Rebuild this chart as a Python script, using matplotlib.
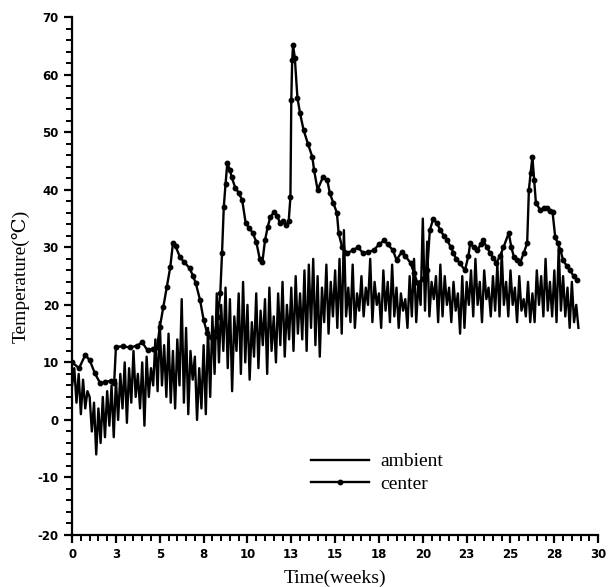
import numpy as np
import matplotlib
matplotlib.use("Agg")
import matplotlib.pyplot as plt
from matplotlib.ticker import MultipleLocator, FixedLocator

# ---------------- data ----------------
# ambient temperature, 8 readings per week, weeks 0 .. 28.875
ambient_t = [
    6, 9, 3, 8, 1, 7, 2, 5,
    4, -2, 3, -6, 2, -4, 4, -3,
    5, -1, 6, -3, 7, 0, 8, 2,
    10, -0.5, 9, 3, 12, 4, 8, 2,
    10, -1, 11, 4, 9, 6, 14, 5,
    17, 6, 13, 4, 15, 3, 12, 2,
    14, 6, 21, 3, 16, 1, 12, 7,
    11, 0, 9, 2, 13, 1, 16, 4,
    18, 8, 22, 10, 20, 12, 23, 9,
    21, 5, 18, 12, 22, 8, 24, 10,
    20, 7, 17, 11, 22, 9, 19, 13,
    21, 8, 23, 12, 18, 10, 22, 13,
    24, 11, 20, 14, 23, 12, 25, 15,
    22, 14, 26, 12, 27, 16, 28, 13,
    25, 11, 23, 17, 27, 15, 24, 18,
    26, 16, 28, 15, 33, 18, 23, 17,
    27, 16, 22, 19, 25, 18, 23, 20,
    28, 17, 24, 20, 22, 16, 26, 19,
    24, 17, 27, 18, 23, 16, 22, 19,
    21, 16, 25, 18, 28, 17, 24, 20,
    35, 19, 31, 18, 24, 21, 25, 17,
    27, 18, 25, 20, 23, 17, 24, 19,
    22, 15, 25, 16, 24, 20, 26, 18,
    28, 20, 24, 17, 26, 21, 23, 18,
    25, 19, 27, 18, 29, 20, 24, 18,
    26, 20, 23, 17, 25, 19, 21, 18,
    24, 17, 22, 17, 26, 20, 25, 18,
    28, 19, 24, 18, 26, 17, 30, 19,
    25, 18, 23, 16, 24, 17, 20, 16,
]
ambient_wk = np.arange(len(ambient_t)) / 8.0

center_wk = [0, 0.4, 0.75, 1.0, 1.3, 1.6, 1.9, 2.2, 2.4, 2.5, 2.9, 3.3, 3.7, 4.0,
             4.3, 4.6, 4.85, 5.0, 5.2, 5.4, 5.6, 5.75, 5.9, 6.15, 6.4, 6.7, 6.9,
             7.05, 7.3, 7.5, 7.7, 7.9, 8.1, 8.3, 8.45, 8.55, 8.65, 8.75, 8.85,
             9.0, 9.1, 9.3, 9.5, 9.7, 9.9, 10.1, 10.3, 10.5, 10.7, 10.85, 11.0,
             11.15, 11.3, 11.5, 11.7, 11.85, 12.0, 12.2, 12.35, 12.45, 12.5,
             12.55, 12.6, 12.7, 12.85, 13.0, 13.2, 13.45, 13.7, 13.8, 14.0,
             14.3, 14.55, 14.7, 14.9, 15.1, 15.2, 15.4, 15.7, 16.0, 16.3, 16.6,
             16.9, 17.2, 17.5, 17.8, 18.0, 18.3, 18.5, 18.8, 19.0, 19.3, 19.5,
             19.7, 20.0, 20.25, 20.4, 20.6, 20.8, 21.0, 21.2, 21.4, 21.6, 21.75,
             21.9, 22.1, 22.4, 22.6, 22.7, 22.9, 23.1, 23.3, 23.45, 23.65,
             23.85, 24.0, 24.2, 24.4, 24.6, 24.9, 25.05, 25.2, 25.35, 25.55,
             25.75, 25.95, 26.05, 26.15, 26.25, 26.35, 26.45, 26.7, 26.9, 27.1,
             27.25, 27.4, 27.55, 27.7, 27.85, 28.0, 28.2, 28.4, 28.6, 28.8]
center_t = [10, 9, 11.3, 10.4, 8.1, 6.4, 6.6, 6.8, 6.5, 12.7, 12.8, 12.6, 12.9,
            13.5, 12.1, 12.4, 12.7, 16.1, 19.6, 23.1, 26.6, 30.7, 30.2, 28.3,
            27.4, 26.4, 25.0, 23.8, 20.8, 17.4, 15.1, 14.4, 14.4, 17.9, 22, 29,
            37, 41, 44.6, 43.5, 42.2, 40.4, 39.5, 38.2, 34.2, 33.4, 32.5, 31,
            28, 27.4, 31.2, 33.5, 35.2, 36.1, 35.5, 34.2, 34.5, 33.9, 34.5,
            38.7, 55.6, 62.5, 65.1, 63, 56, 53.3, 50.4, 48, 45.7, 43.4, 40,
            42.2, 41.7, 39.4, 37.7, 36, 32.5, 30, 29, 29.5, 30, 29, 29.2, 29.5,
            30.5, 31.2, 30.5, 29.5, 27.8, 29.2, 28.5, 27.3, 25.5, 23.8, 24.5,
            26, 33, 35, 34.2, 33, 32, 31.2, 30, 29, 28, 27.3, 26, 28.5, 30.7,
            30, 29.5, 30.5, 31.2, 30, 29, 28.2, 27.3, 28.5, 30, 32.5, 30, 28.3,
            27.8, 27.3, 29, 30.7, 40, 43, 45.7, 41.7, 37.7, 36.5, 36.8, 36.8,
            36.4, 36.1, 31.8, 30.7, 29.5, 27.8, 26.8, 26, 25, 24.3]

x_ticks = [0, 2.5, 5, 7.5, 10, 12.5, 15, 17.5, 20, 22.5, 25, 27.5, 30]
x_ticklabels = ['0', '3', '5', '8', '10', '13', '15', '18', '20', '23', '25', '28', '30']
y_ticks = [-20, -10, 0, 10, 20, 30, 40, 50, 60, 70]
y_ticklabels = ['-20', '-10', '0', '10', '20', '30', '40', '50', '60', '70']

# ---------------- plot ----------------
serif = ['Liberation Serif', 'DejaVu Serif', 'DejaVu Sans']
fig = plt.figure(figsize=(6.11, 5.87), dpi=100)
ax = fig.add_axes([0.118, 0.0886, 0.861, 0.882])

ax.plot(ambient_wk, ambient_t, color='black', lw=1.7, label='ambient')
ax.plot(center_wk, center_t, color='black', lw=1.7, marker='o', ms=3.2,
        label='center')

ax.set_xlim(0, 30)
ax.set_ylim(-20, 70)
for s in ('top', 'right'):
    ax.spines[s].set_visible(False)
for s in ('left', 'bottom'):
    ax.spines[s].set_linewidth(1.6)

ax.xaxis.set_major_locator(FixedLocator(x_ticks))
ax.set_xticklabels(x_ticklabels)
ax.xaxis.set_minor_locator(MultipleLocator(0.5))
ax.yaxis.set_major_locator(FixedLocator(y_ticks))
ax.set_yticklabels(y_ticklabels)
ax.yaxis.set_minor_locator(MultipleLocator(2))
ax.tick_params(which='major', direction='out', length=6, width=1.6,
               labelsize=8.5)
ax.tick_params(which='minor', direction='out', length=4, width=1.4)
for lab in ax.get_xticklabels() + ax.get_yticklabels():
    lab.set_fontweight('bold')
    lab.set_family('DejaVu Sans')

ax.set_xlabel('Time(weeks)', family=serif, fontsize=14, labelpad=6)
ax.set_ylabel('Temperature(℃)', family=serif, fontsize=14, labelpad=6)

leg = ax.legend(loc='center left', bbox_to_anchor=(0.42, 0.12), frameon=False,
                prop={'family': serif, 'size': 14},
                handlelength=3.0, labelspacing=0.25, handletextpad=0.6)

fig.savefig('out.png', dpi=100)
